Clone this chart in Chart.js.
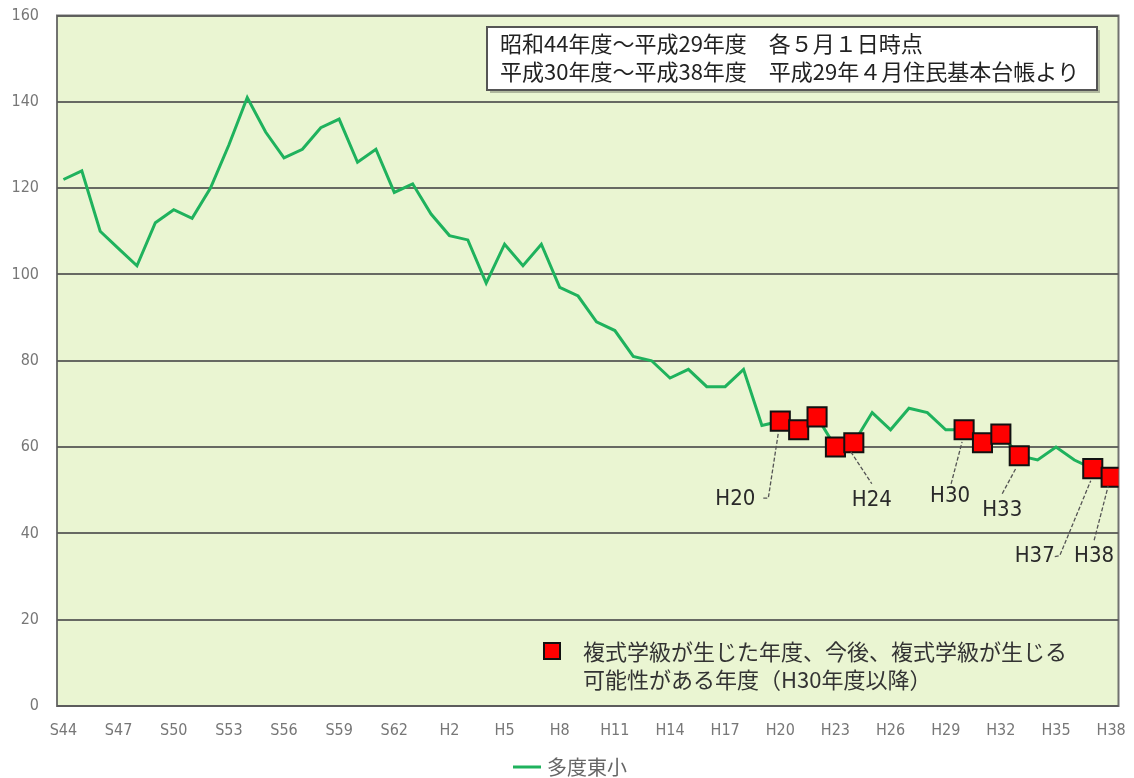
<!DOCTYPE html>
<html><head><meta charset="utf-8">
<script src="https://cdn.jsdelivr.net/npm/chart.js@4/dist/chart.umd.min.js"></script>
<style>html,body{margin:0;padding:0;background:#fff}#wrap{width:1134px;height:778px;position:relative}</style>
</head><body><div id="wrap"><canvas id="c" width="1134" height="778"></canvas></div>
<script>
// ---- data ----
const years = ['S44','S45','S46','S47','S48','S49','S50','S51','S52','S53','S54','S55','S56','S57','S58','S59','S60','S61','S62','S63',
  'H1','H2','H3','H4','H5','H6','H7','H8','H9','H10','H11','H12','H13','H14','H15','H16','H17','H18','H19','H20',
  'H21','H22','H23','H24','H25','H26','H27','H28','H29','H30','H31','H32','H33','H34','H35','H36','H37','H38'];
const pupils = [122,124,110,106,102,112,115,113,120,130,141,133,127,129,134,136,126,129,119,121,
  114,109,108,98,107,102,107,97,95,89,87,81,80,76,78,74,74,78,65,66,
  64,67,60,61,68,64,69,68,64,64,61,63,58,57,60,57,55,53];
const tickLabels = ['S44','S47','S50','S53','S56','S59','S62','H2','H5','H8','H11','H14','H17','H20','H23','H26','H29','H32','H35','H38'];
const yTicks = [0,20,40,60,80,100,120,140,160];
const markYears = ['H20','H21','H22','H23','H24','H30','H31','H32','H33','H37','H38'];
const calloutYears = ['H20','H24','H30','H33','H37','H38'];
const seriesName = '多度東小';
const noteLines = ['昭和44年度～平成29年度　各５月１日時点','平成30年度～平成38年度　平成29年４月住民基本台帳より'];
const markLegendLines = ['複式学級が生じた年度、今後、複式学級が生じる','可能性がある年度（H30年度以降）'];

// ---- style ----
const GREEN = '#1fb25d';
const NARROW = "'Liberation Sans Narrow','DejaVu Sans Condensed','Liberation Sans',sans-serif";
const CJK = "'Noto Sans CJK JP','Noto Sans',sans-serif";
const callStyle = {
  H20:{tx:-45,ty:78,path:[[-17,77],[-12,77],[-2,12]]},
  H24:{tx:18,ty:58,path:[[-3,9],[18,41]]},
  H30:{tx:-14,ty:66,path:[[-13,54],[-2,12]]},
  H33:{tx:-17,ty:55,path:[[-17,38],[-3,12]]},
  H37:{tx:-58,ty:88,path:[[-38,88],[-33,87],[-2,12]]},
  H38:{tx:-17,ty:79,path:[[-17,63],[-3,9]]}
};

const bgPlugin = {
  id:'bg',
  beforeDraw(chart){
    const {ctx, chartArea:a} = chart;
    ctx.save();
    ctx.fillStyle = '#eaf5d2';
    ctx.fillRect(a.left, a.top, a.right-a.left, a.bottom-a.top);
    ctx.restore();
  },
  beforeDatasetsDraw(chart){
    const {ctx, chartArea:a} = chart;
    ctx.save();
    ctx.strokeStyle = 'rgba(90,90,90,0.85)';
    ctx.lineWidth = 2;
    ctx.strokeRect(a.left, a.top, a.right-a.left, a.bottom-a.top);
    ctx.restore();
  }
};

const annPlugin = {
  id:'ann',
  afterDatasetsDraw(chart){
    const {ctx, scales:{x,y}} = chart;
    ctx.save();
    // callouts
    calloutYears.forEach(lab=>{
      const i = years.indexOf(lab);
      const px = x.getPixelForValue(i), py = y.getPixelForValue(pupils[i]);
      const s = callStyle[lab];
      ctx.strokeStyle = '#555'; ctx.lineWidth = 1.3; ctx.setLineDash([4,2]);
      ctx.beginPath();
      s.path.forEach((p,k)=>{ k? ctx.lineTo(px+p[0],py+p[1]) : ctx.moveTo(px+p[0],py+p[1]); });
      ctx.stroke();
      ctx.setLineDash([]);
      ctx.fillStyle = '#2a2a2a';
      ctx.font = "22px " + NARROW;
      ctx.textAlign = 'center'; ctx.textBaseline = 'middle';
      ctx.fillText(lab, px+s.tx, py+s.ty);
    });
    // info box
    ctx.fillStyle = 'rgba(0,0,0,0.25)';
    ctx.fillRect(490, 30, 610, 63);
    ctx.fillStyle = '#fff';
    ctx.fillRect(487, 27, 610, 63);
    ctx.strokeStyle = '#555'; ctx.lineWidth = 2;
    ctx.strokeRect(487, 27, 610, 63);
    ctx.fillStyle = '#222';
    ctx.font = "22px " + CJK;
    ctx.textAlign = 'left'; ctx.textBaseline = 'middle';
    ctx.fillText(noteLines[0], 500, 44);
    ctx.fillText(noteLines[1], 500, 72);
    // mark legend
    ctx.fillStyle = '#ff0000';
    ctx.fillRect(544, 643, 16, 16);
    ctx.strokeStyle = '#111'; ctx.lineWidth = 2;
    ctx.strokeRect(544, 643, 16, 16);
    ctx.fillStyle = '#333';
    ctx.font = "22px " + CJK;
    ctx.fillText(markLegendLines[0], 583, 652);
    ctx.fillText(markLegendLines[1], 583, 680);
    // series legend
    ctx.strokeStyle = GREEN; ctx.lineWidth = 3;
    ctx.beginPath(); ctx.moveTo(513, 767); ctx.lineTo(541, 767); ctx.stroke();
    ctx.fillStyle = '#666';
    ctx.font = "20px " + CJK;
    ctx.fillText(seriesName, 547, 767);
    ctx.restore();
  }
};

const ctx = document.getElementById('c').getContext('2d');
new Chart(ctx, {
  type:'line',
  data:{datasets:[
    {label:'marks', data: markYears.map(l=>{const i=years.indexOf(l);return {x:i,y:pupils[i]};}),
     showLine:false, pointStyle:'rect', pointRadius:13.5, pointHoverRadius:13.5,
     backgroundColor:'#ff0000', borderColor:'#111', borderWidth:2, order:1},
    {label:seriesName, data: pupils.map((v,i)=>({x:i,y:v})), borderColor:GREEN, borderWidth:3,
     pointRadius:0, tension:0, fill:false, order:2}
  ]},
  options:{
    responsive:false, animation:false, events:[],
    layout:{padding:{top:15,right:14,left:0,bottom:0}},
    scales:{
      x:{type:'linear', min:-0.35, max:57.4,
        grid:{display:false, drawTicks:false}, border:{display:false},
        afterBuildTicks(s){ s.ticks = tickLabels.map(l=>({value:years.indexOf(l)})); },
        ticks:{autoSkip:false, maxRotation:0, padding:15, color:'#777', font:{family:NARROW, size:16},
          callback:(v)=>years[v]},
        afterFit(s){ s.height = 72; s.paddingLeft = 0; s.paddingRight = 0; }
      },
      y:{min:0, max:160,
        afterBuildTicks(s){ s.ticks = yTicks.map(v=>({value:v})); },
        grid:{color:'rgba(80,80,80,0.85)', lineWidth:2, drawTicks:false}, border:{display:false},
        ticks:{padding:18, color:'#777', font:{family:NARROW, size:16}},
        afterFit(s){ s.width = 57; s.paddingTop = 0; s.paddingBottom = 0; }
      }
    },
    plugins:{legend:{display:false}, tooltip:{enabled:false}}
  },
  plugins:[bgPlugin, annPlugin]
});
</script></body></html>
